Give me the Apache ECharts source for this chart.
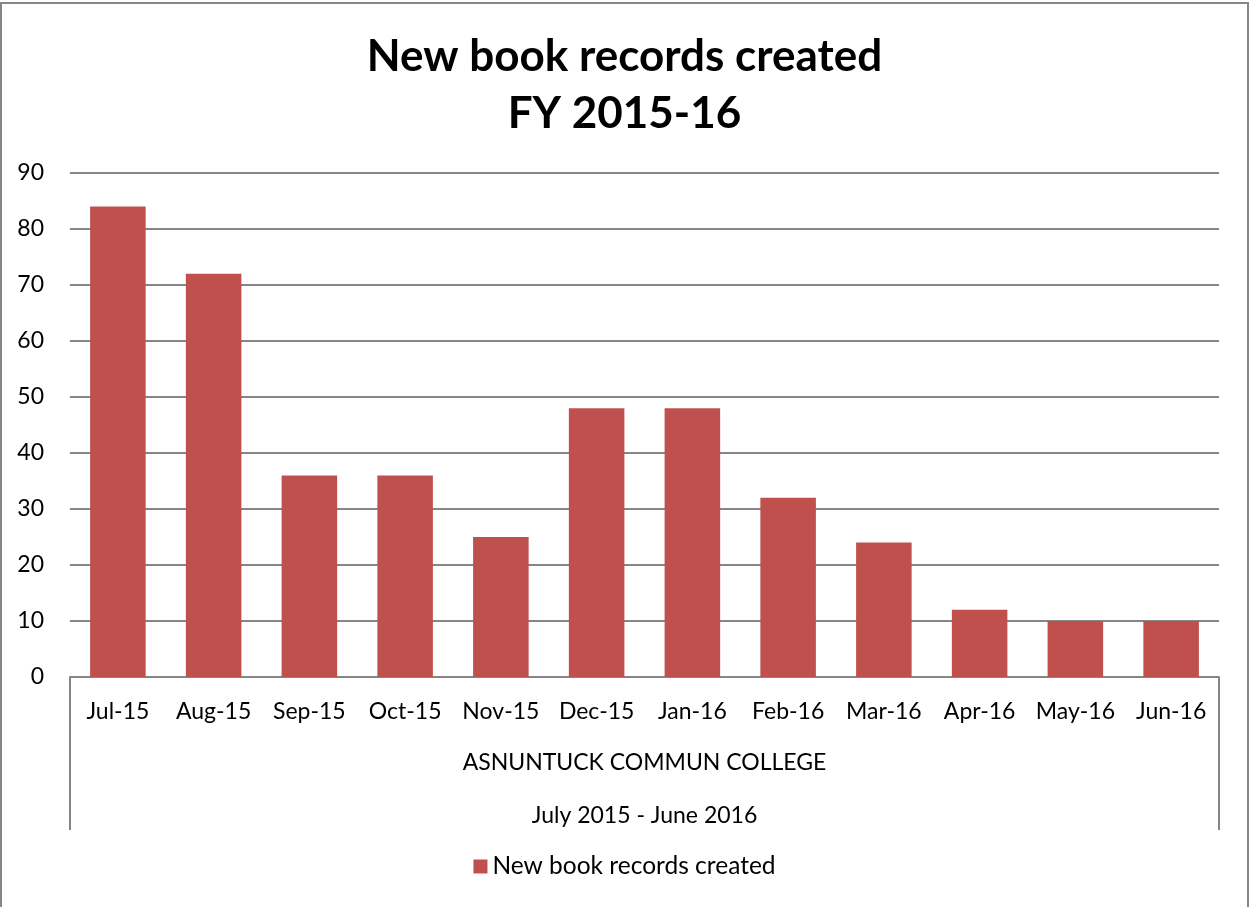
<!DOCTYPE html>
<html>
<head>
<meta charset="utf-8">
<script src="https://cdn.jsdelivr.net/npm/echarts@6/dist/echarts.min.js"></script>
<style>
  html, body { margin: 0; padding: 0; background: #fff; }
  #chart { width: 1249px; height: 907px; }
</style>
</head>
<body>
<div id="chart"></div>
<script>
// Monthly counts of new book records, fiscal year 2015-16
const months = ['Jul-15', 'Aug-15', 'Sep-15', 'Oct-15', 'Nov-15', 'Dec-15',
                'Jan-16', 'Feb-16', 'Mar-16', 'Apr-16', 'May-16', 'Jun-16'];
const records = [84, 72, 36, 36, 25, 48, 48, 32, 24, 12, 10, 10];
const institution = ['ASNUNTUCK COMMUN COLLEGE'];
const period = ['July 2015 - June 2016'];
const seriesName = 'New book records created';
const titleLines = ['New book records created', 'FY 2015-16'];

const FONT = 'Lato';
const GRID = { left: 70, right: 30, top: 173, bottom: 230 };

const chart = echarts.init(document.getElementById('chart'));

chart.setOption({
  backgroundColor: '#ffffff',
  animation: false,
  textStyle: { fontFamily: FONT },
  title: {
    text: titleLines.join('\n'),
    left: 'center',
    top: 23,
    textStyle: { fontFamily: FONT, fontSize: 44, fontWeight: 'bold', color: '#000', lineHeight: 57 }
  },
  legend: {
    data: [seriesName],
    bottom: 23,
    left: 'center',
    itemWidth: 14,
    itemHeight: 14,
    itemGap: 8,
    icon: 'rect',
    textStyle: { fontFamily: FONT, fontSize: 24.5, color: '#000' }
  },
  grid: GRID,
  xAxis: [
    {
      type: 'category',
      data: months,
      axisLine: { show: true, lineStyle: { color: '#868686', width: 2 } },
      axisTick: { show: false },
      axisLabel: { fontFamily: FONT, fontSize: 23, color: '#000', margin: 23, interval: 0 },
      splitLine: { show: false }
    },
    {
      type: 'category',
      position: 'bottom',
      data: institution,
      axisLine: { show: false },
      axisTick: { show: true, length: 153, lineStyle: { color: '#868686', width: 2 } },
      axisLabel: { fontFamily: FONT, fontSize: 23, color: '#000', margin: 74 }
    },
    {
      type: 'category',
      position: 'bottom',
      data: period,
      axisLine: { show: false },
      axisTick: { show: false },
      axisLabel: { fontFamily: FONT, fontSize: 23, color: '#000', margin: 127 }
    }
  ],
  yAxis: {
    type: 'value',
    min: 0,
    max: 90,
    interval: 10,
    axisLine: { show: false },
    axisTick: { show: false },
    axisLabel: { fontFamily: FONT, fontSize: 23, color: '#000', margin: 26 },
    splitLine: { lineStyle: { color: '#868686', width: 2 } }
  },
  series: [{
    name: seriesName,
    type: 'bar',
    xAxisIndex: 0,
    data: records,
    barCategoryGap: '42%',
    itemStyle: { color: '#C0504D' }
  }],
  graphic: [{
    type: 'rect',
    shape: { x: 1, y: 3, width: 1247, height: 910 },
    style: { fill: 'none', stroke: '#868686', lineWidth: 2 },
    silent: true
  }]
});
</script>
</body>
</html>
